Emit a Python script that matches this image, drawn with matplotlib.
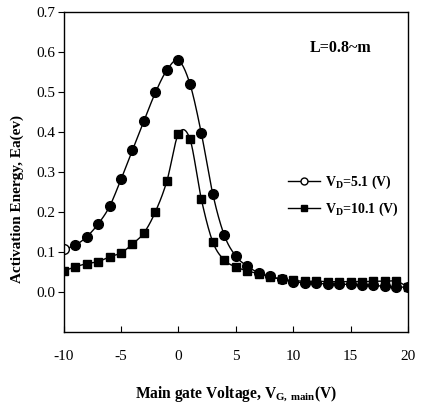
import numpy as np
import matplotlib
matplotlib.use("Agg")
import matplotlib.pyplot as plt
from matplotlib.lines import Line2D

vg = [-10, -9, -8, -7, -6, -5, -4, -3, -2, -1, 0, 1, 2, 3, 4,
      5, 6, 7, 8, 9, 10, 11, 12, 13, 14, 15, 16, 17, 18, 19, 20]
ea_51 = [0.107, 0.117, 0.138, 0.170, 0.214, 0.282, 0.355, 0.428, 0.499, 0.555,
         0.579, 0.521, 0.397, 0.245, 0.142, 0.090, 0.065, 0.048, 0.039, 0.032,
         0.026, 0.023, 0.022, 0.020, 0.020, 0.019, 0.018, 0.017, 0.014, 0.012, 0.013]
ea_101 = [0.053, 0.063, 0.071, 0.076, 0.088, 0.098, 0.120, 0.148, 0.201, 0.278,
          0.395, 0.383, 0.232, 0.125, 0.080, 0.063, 0.053, 0.046, 0.038, 0.032,
          0.029, 0.027, 0.027, 0.026, 0.026, 0.026, 0.026, 0.027, 0.027, 0.027, 0.013]


def smooth(x, y, n=20):
    # Catmull-Rom curve through the points (like Excel's smoothed line)
    p = np.column_stack([x, y]).astype(float)
    p = np.vstack([2 * p[0] - p[1], p, 2 * p[-1] - p[-2]])
    t = np.linspace(0, 1, n, endpoint=False)[:, None]
    out = []
    for i in range(1, len(p) - 2):
        p0, p1, p2, p3 = p[i - 1], p[i], p[i + 1], p[i + 2]
        seg = 0.5 * (2 * p1 + (-p0 + p2) * t + (2 * p0 - 5 * p1 + 4 * p2 - p3) * t ** 2
                     + (-p0 + 3 * p1 - 3 * p2 + p3) * t ** 3)
        out.append(seg)
    out.append(p[-2][None, :])
    out = np.vstack(out)
    return out[:, 0], out[:, 1]


plt.rcParams['font.family'] = ['Liberation Serif', 'DejaVu Serif']
plt.rcParams['axes.unicode_minus'] = False
plt.rcParams['mathtext.fontset'] = 'custom'
plt.rcParams['mathtext.rm'] = 'Liberation Serif:bold'
plt.rcParams['mathtext.bf'] = 'Liberation Serif:bold'

fig = plt.figure(figsize=(4.33, 4.03), dpi=100)
ax = fig.add_axes([0.147, 0.176, 0.795, 0.794])

sx, sy = smooth(vg, ea_51)
ax.plot(sx, sy, color='black', lw=1.0)
sx, sy = smooth(vg, ea_101)
ax.plot(sx, sy, color='black', lw=1.0)

ax.plot(vg[1:], ea_51[1:], 'o', color='black', ms=7, ls='none')
ax.plot(vg[:1], ea_51[:1], 'o', mfc='white', mec='black', ms=7, ls='none')
ax.plot(vg, ea_101, 's', color='black', ms=6, ls='none')

ax.set_xlim(-10, 20)
ax.set_ylim(-0.1, 0.7)
ax.set_xticks([-10, -5, 0, 5, 10, 15, 20])
ax.set_yticks([0.0, 0.1, 0.2, 0.3, 0.4, 0.5, 0.6, 0.7])
ax.set_yticklabels(['0.0', '0.1', '0.2', '0.3', '0.4', '0.5', '0.6', '0.7'])
ax.tick_params(axis='x', direction='in', length=4, labelsize=11, pad=13)
ax.tick_params(axis='y', direction='out', length=4, labelsize=11, pad=2)
for s in ax.spines.values():
    s.set_linewidth(1.0)

ax.set_xlabel(r'Main gate Voltage, V$_{\mathrm{G,\,main}}$(V)', fontsize=11.2,
              fontweight='bold')
ax.xaxis.set_label_coords(0.5, -0.165)
ax.set_ylabel('Activation Energy, Ea(ev)', fontsize=11, fontweight='bold')
ax.yaxis.set_label_coords(-0.115, 0.415)

ax.text(0.805, 0.887, 'L=0.8~m', transform=ax.transAxes, fontsize=11.5,
        fontweight='bold', ha='center', va='center')

h1 = Line2D([], [], color='black', lw=1.0, marker='o', mfc='white', mec='black', ms=5)
h2 = Line2D([], [], color='black', lw=1.0, marker='s', mfc='black', mec='black', ms=5)
leg = ax.legend([h1, h2], [r'V$_{\mathrm{D}}$=5.1 (V)', r'V$_{\mathrm{D}}$=10.1 (V)'],
                loc='center left', bbox_to_anchor=(0.615, 0.425), frameon=False,
                handlelength=2.3, handletextpad=0.4, labelspacing=0.7,
                prop={'weight': 'bold', 'size': 10})

fig.savefig('out.png', dpi=100)
